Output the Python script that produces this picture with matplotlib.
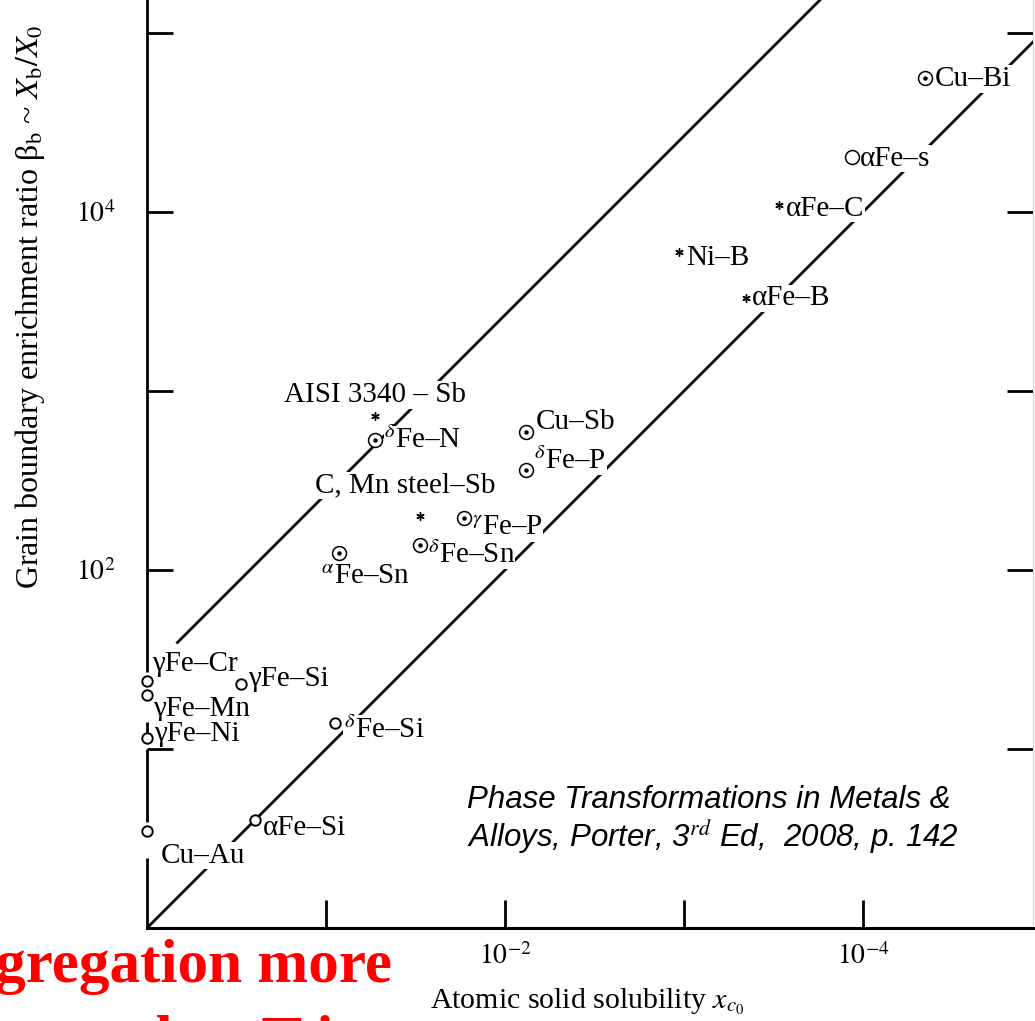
import matplotlib
matplotlib.use("Agg")
import matplotlib.pyplot as plt
import numpy as np

plt.rcParams['font.family'] = ['Liberation Serif', 'DejaVu Serif']
plt.rcParams['mathtext.fontset'] = 'stix'

# solute systems: atomic solid solubility x0 and enrichment ratio beta_b
names = ["γFe–Cr", "γFe–Mn", "γFe–Ni", "Cu–Au", "γFe–Si", "δFe–Si", "αFe–Si",
         "αFe–Sn", "δFe–Sn", "γFe–P", "δFe–P", "Cu–Sb", "δFe–N",
         "AISI 3340 – Sb", "C, Mn steel–Sb", "Ni–B", "αFe–B", "αFe–C",
         "αFe–s", "Cu–Bi"]
x0 = [1.0, 1.0, 1.0, 1.0, 0.30, 0.089, 0.25,
      0.085, 0.030, 0.017, 0.0076, 0.0076, 0.053,
      0.053, 0.030, 1.07e-3, 4.5e-4, 2.95e-4,
      1.15e-4, 4.5e-5]
beta = [24, 20, 11.5, 3.5, 23, 14, 4,
        124, 138, 195, 363, 590, 530,
        725, 200, 6000, 3300, 11000,
        20400, 56000]
method = ["open", "open", "open", "open", "open", "open", "open",
          "dot", "dot", "dot", "dot", "dot", "dot",
          "star", "star", "star", "star", "star",
          "ring", "dot"]

# guide lines beta = k / x0
lower_k = 1.0
upper_k = 26.6
upper_start = 10 ** -0.17

xticks = [1e-1, 1e-2, 1e-3, 1e-4]
xticklabels = ["", "$10^{-2}$", "", "$10^{-4}$"]
yticks = [1e1, 1e2, 1e3, 1e4, 1e5]
yticklabels = ["", "$10^{2}$", "", "$10^{4}$", ""]

# label text and offset (pixels) relative to each marker
labels = {
    "γFe–Cr": ("γFe–Cr", 5, 17, "left"),
    "γFe–Mn": ("γFe–Mn", 6, -14, "left"),
    "γFe–Ni": ("γFe–Ni", 7, 4, "left"),
    "Cu–Au": ("Cu–Au", 14, -25, "left"),
    "γFe–Si": ("γFe–Si", 8, 5, "left"),
    "δFe–Si": (r"$^{\delta}$Fe–Si", 9, -7, "left"),
    "αFe–Si": ("αFe–Si", 8, -8, "left"),
    "αFe–Sn": (r"$^{\alpha}$Fe–Sn", -18, -24, "left"),
    "δFe–Sn": (r"$^{\delta}$Fe–Sn", 8, -10, "left"),
    "γFe–P": (r"$^{\gamma}$Fe–P", 8, -10, "left"),
    "δFe–P": (r"$^{\delta}$Fe–P", 8, 9, "left"),
    "Cu–Sb": ("Cu–Sb", 9, 10, "left"),
    "δFe–N": (r"$^{\delta}$Fe–N", 9, 0, "left"),
    "AISI 3340 – Sb": ("AISI 3340 – Sb", 0, 21, "center"),
    "C, Mn steel–Sb": ("C, Mn steel–Sb", -14, 31, "center"),
    "Ni–B": ("Ni–B", 7, -6, "left"),
    "αFe–B": ("αFe–B", 6, 0, "left"),
    "αFe–C": ("αFe–C", 7, -4, "left"),
    "αFe–s": ("αFe–s", 8, -2, "left"),
    "Cu–Bi": ("Cu–Bi", 10, -1, "left"),
}

W, H = 1035, 1021
fig = plt.figure(figsize=(W / 100, H / 100), dpi=100)
ax = fig.add_axes([147 / W, (H - 928) / H, (1033 - 147) / W, 928 / H])
ax.set_xscale('log')
ax.set_yscale('log')
ax.set_xlim(1, 10 ** (-(1033 - 147) / 179))
ax.set_ylim(1, 10 ** (928 / 179))

for s in ['top', 'left']:
    ax.spines[s].set_visible(False)
ax.spines['bottom'].set_linewidth(2.2)
ax.spines['right'].set_linewidth(0.8)
ax.spines['right'].set_color('#d8d8d8')

ax.set_xticks(xticks)
ax.set_xticklabels(xticklabels)
ax.set_yticks(yticks)
ax.set_yticklabels(yticklabels)
ax.minorticks_off()
ax.tick_params(axis='x', direction='in', length=20, width=2, pad=11, labelsize=20)
ax.tick_params(axis='y', direction='in', length=19, width=2, pad=23, labelsize=20,
               right=True)

# broken left axis line (interrupted by the x0 = 1 points)
left_segments = [(1.43, 5.3), (1.09, 1.15), (0.59, 1.0), (0.0, 0.39)]
for a, b in left_segments:
    ax.plot([1, 1], [10 ** a, 10 ** b], color='black', lw=2, clip_on=False,
            solid_capstyle='butt', zorder=3)

# guide lines
gx = np.array([1.0, 1e-6])
ax.plot(gx, lower_k / gx, color='black', lw=2, zorder=1)
ux = np.array([upper_start, 1e-6])
ax.plot(ux, upper_k / ux, color='black', lw=2, zorder=1)

# markers
for xi, bi, m in zip(x0, beta, method):
    if m == "open":
        ax.plot(xi, bi, 'o', ms=7.5, mfc='white', mec='black', mew=1.4,
                clip_on=False, zorder=5)
    elif m == "ring":
        ax.plot(xi, bi, 'o', ms=10, mfc='white', mec='black', mew=1.1, zorder=5)
    elif m == "dot":
        ax.plot(xi, bi, 'o', ms=10, mfc='white', mec='black', mew=1.1, zorder=5)
        ax.plot(xi, bi, 'o', ms=2.2, color='black', zorder=6)
    else:
        ax.plot(xi, bi, marker=(6, 2, 0), ms=6, color='black', mew=1, zorder=5)

for n, xi, bi in zip(names, x0, beta):
    txt, dx, dy, ha = labels[n]
    ax.annotate(txt, (xi, bi), xytext=(dx, dy), textcoords='offset pixels',
                ha=ha, va='center', fontsize=21, zorder=4,
                bbox=dict(fc='white', ec='none', pad=0.5),
                annotation_clip=False)

fig.text(30 / W, 1 - 307 / H,
         r"Grain boundary enrichment ratio β$_\mathrm{b}$ ~ $X_\mathrm{b}/X_0$",
         rotation=90, ha='center', va='center', fontsize=23)
fig.text(587 / W, 1 - 1008 / H, r"Atomic solid solubility $x_{c_0}$",
         ha='center', va='baseline', fontsize=21.5)

fig.text(467 / W, 1 - 800 / H, "Phase Transformations in Metals &",
         ha='left', va='center', fontsize=22.5, style='italic',
         family='Liberation Sans')
fig.text(467 / W, 1 - 837 / H, r"Alloys, Porter, 3$^{rd}$ Ed,  2008, p. 142",
         ha='left', va='center', fontsize=22.5, style='italic',
         family='Liberation Sans')

fig.text(392 / W, 1 - 982 / H, "Segregation more", ha='right', va='baseline',
         color='red', fontweight='bold', fontsize=44)
fig.text(-150 / W, 1 - 1058 / H, "common to low T in", ha='left', va='baseline',
         color='red', fontweight='bold', fontsize=44)

fig.savefig("out.png", dpi=100)
